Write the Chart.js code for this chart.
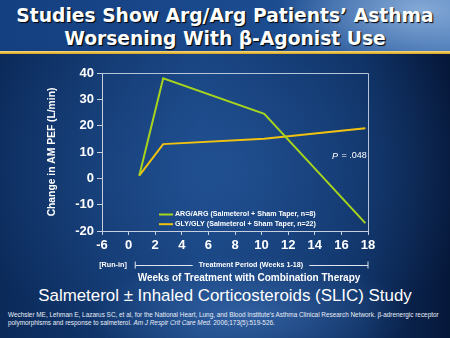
<!DOCTYPE html>
<html lang="en">
<head>
<meta charset="UTF-8">
<title>Arg/Arg vs Gly/Gly AM PEF</title>
<script src="https://cdn.jsdelivr.net/npm/chart.js"></script>
<style>
    html, body {
        margin: 0;
        padding: 0;
    }
    body {
        width: 450px;
        height: 338px;
        position: relative;
        overflow: hidden;
        font-family: "Liberation Sans", Arial, sans-serif;
        color: #fff;
        background:
            radial-gradient(ellipse 160px 60px at 250px 315px, rgba(70,120,190,0.55), rgba(70,120,190,0) 100%),
            radial-gradient(ellipse 260px 200px at 220px 170px, rgba(40,90,160,0.65), rgba(40,90,160,0) 100%),
            linear-gradient(90deg, #0b2a5a 0%, #143e78 45%, #0c2d5e 80%, #06183a 100%);
    }
    .band {
        position: absolute;
        left: 0; top: 0;
        width: 450px; height: 51px;
        background:
            radial-gradient(ellipse 140px 60px at 420px 10px, rgba(150,185,225,0.8), rgba(150,185,225,0) 100%),
            linear-gradient(90deg, #143f80 0%, #1c4c90 60%, #3f6fb0 100%);
    }
    .rule {
        position: absolute;
        left: 0; top: 51px;
        width: 450px; height: 3px;
        background: linear-gradient(#f6dc80, #d9a21c);
    }
    .title {
        position: absolute;
        left: 0; top: 4px;
        width: 450px;
        text-align: center;
        font-family: "DejaVu Sans", Verdana, sans-serif;
        font-weight: bold;
        font-size: 18.7px;
        line-height: 23px;
        text-shadow: 1px 1px 1px #000;
    }
    .study {
        position: absolute;
        left: 0; top: 286px;
        width: 450px;
        text-align: center;
        font-size: 16.9px;
    }
    .cite {
        position: absolute;
        left: 8px; top: 311px;
        width: 440px;
        font-size: 6.4px;
        line-height: 7.5px;
        color: #e8eef8;
    }
    canvas {
        position: absolute;
        left: 0; top: 0;
    }
</style>
</head>
<body>
<div class="band"></div>
<div class="rule"></div>
<div class="title">Studies Show Arg/Arg Patients’ Asthma<br>Worsening With β-Agonist Use</div>
<div class="study">Salmeterol ± Inhaled Corticosteroids (SLIC) Study</div>
<div class="cite">Wechsler ME, Lehman E, Lazarus SC, et al, for the National Heart, Lung, and Blood Institute's Asthma Clinical Research Network. β-adrenergic receptor polymorphisms and response to salmeterol. <i>Am J Respir Crit Care Med.</i> 2006;173(5):519-526.</div>
<div style="position:absolute;left:0;top:0;width:450px;height:338px">
    <canvas id="myChart" width="450" height="338"></canvas>
</div>

<script>
    // data
    const argWeeks = [0.8, 2.6, 10.2, 17.8];
    const argValues = [1, 38, 24.5, -17];
    const glyWeeks = [0.8, 2.6, 10.2, 17.8];
    const glyValues = [1, 13, 15, 19];
    const seriesLabels = ['ARG/ARG (Salmeterol + Sham Taper, n=8)', 'GLY/GLY (Salmeterol + Sham Taper, n=22)'];
    const seriesColors = ['#a6d41e', '#f2c210'];
    // the x axis is broken: the first slot is labelled -6
    const xTickLabels = ['-6', '0', '2', '4', '6', '8', '10', '12', '14', '16', '18'];
    const yTickLabels = ['-20', '-10', '0', '10', '20', '30', '40'];

    const toPoints = (xs, ys) => xs.map((x, i) => ({ x: x, y: ys[i] }));

    const boldFont = (size) => 'bold ' + size + 'px "Liberation Sans", Arial, sans-serif';

    // box lines, legend, p value and the labels under the axis
    const extras = {
        id: 'extras',
        afterDraw(chart) {
            const c = chart.ctx;
            const a = chart.chartArea;
            const xs = chart.scales.x;
            c.save();

            c.strokeStyle = '#b8c4d8';
            c.lineWidth = 1;
            c.beginPath();
            c.moveTo(a.left, a.top + 0.5);
            c.lineTo(a.right + 0.5, a.top + 0.5);
            c.lineTo(a.right + 0.5, a.bottom);
            c.stroke();

            // legend
            c.font = boldFont(7.1);
            c.textBaseline = 'middle';
            c.fillStyle = '#fff';
            chart.data.datasets.forEach((ds, i) => {
                const y = 214.5 + i * 9.7;
                c.strokeStyle = ds.borderColor;
                c.lineWidth = 2;
                c.beginPath();
                c.moveTo(159, y);
                c.lineTo(173, y);
                c.stroke();
                c.fillText(ds.label, 175, y);
            });

            // p value
            c.font = 'italic 9px "Liberation Sans", Arial, sans-serif';
            c.fillText('P', 332, 156);
            c.font = '9px "Liberation Sans", Arial, sans-serif';
            c.fillText(' = .048', 332 + c.measureText('P').width + 1, 156);

            // y axis title
            c.font = boldFont(10.3);
            c.textAlign = 'center';
            c.translate(52, (a.top + a.bottom) / 2);
            c.rotate(-Math.PI / 2);
            c.fillText('Change in AM PEF (L/min)', 0, 0);
            c.setTransform(1, 0, 0, 1, 0, 0);

            // run-in / treatment bracket
            const yb = 265;
            c.font = boldFont(7.2);
            c.fillText('[Run-in]', 113, yb);
            const tx = 251;
            const label = 'Treatment Period (Weeks 1-18)';
            c.fillText(label, tx, yb);
            const half = c.measureText(label).width / 2 + 6;
            const x0 = xs.getPixelForValue(0.5);
            const x1 = xs.getPixelForValue(18);
            c.strokeStyle = '#e0e6f0';
            c.lineWidth = 1;
            c.beginPath();
            c.moveTo(x0, yb - 3.5); c.lineTo(x0, yb + 3.5);
            c.moveTo(x0, yb + 0.5); c.lineTo(tx - half, yb + 0.5);
            c.moveTo(tx + half, yb + 0.5); c.lineTo(x1, yb + 0.5);
            c.moveTo(x1, yb - 3.5); c.lineTo(x1, yb + 3.5);
            c.stroke();

            c.font = boldFont(10);
            c.fillText('Weeks of Treatment with Combination Therapy', 249, 278);
            c.restore();
        }
    };

    const ctx = document.getElementById('myChart').getContext('2d');
    const myChart = new Chart(ctx, {
        type: 'line',
        data: {
            datasets: [
                {
                    label: seriesLabels[0],
                    data: toPoints(argWeeks, argValues),
                    borderColor: seriesColors[0],
                    borderWidth: 2,
                    pointRadius: 0,
                    tension: 0
                },
                {
                    label: seriesLabels[1],
                    data: toPoints(glyWeeks, glyValues),
                    borderColor: seriesColors[1],
                    borderWidth: 2,
                    pointRadius: 0,
                    tension: 0
                }
            ]
        },
        options: {
            responsive: false,
            animation: false,
            events: [],
            layout: { padding: { left: 0, top: 73, right: 82, bottom: 0 } },
            plugins: {
                legend: { display: false },
                tooltip: { enabled: false }
            },
            scales: {
                x: {
                    type: 'linear',
                    min: -2,
                    max: 18,
                    afterFit: (s) => { s.height = 107; },
                    afterBuildTicks: (s) => {
                        s.ticks = xTickLabels.map((t, i) => ({ value: -2 + i * 2 }));
                    },
                    ticks: {
                        color: '#fff',
                        font: { family: '"Liberation Sans", Arial, sans-serif', size: 13, weight: 'bold' },
                        padding: 3,
                        maxRotation: 0,
                        callback: (v) => xTickLabels[Math.round((v + 2) / 2)]
                    },
                    grid: { drawOnChartArea: false, color: '#c8d0e0', tickLength: 4 },
                    border: { color: '#c8d0e0', width: 1 }
                },
                y: {
                    min: -20,
                    max: 40,
                    afterFit: (s) => { s.width = 102; },
                    afterBuildTicks: (s) => {
                        s.ticks = yTickLabels.map((t) => ({ value: Number(t) }));
                    },
                    ticks: {
                        color: '#fff',
                        font: { family: '"Liberation Sans", Arial, sans-serif', size: 13, weight: 'bold' },
                        padding: 3
                    },
                    grid: { drawOnChartArea: false, color: '#c8d0e0', tickLength: 5 },
                    border: { color: '#c8d0e0', width: 1 }
                }
            }
        },
        plugins: [extras]
    });
</script>
</body>
</html>
